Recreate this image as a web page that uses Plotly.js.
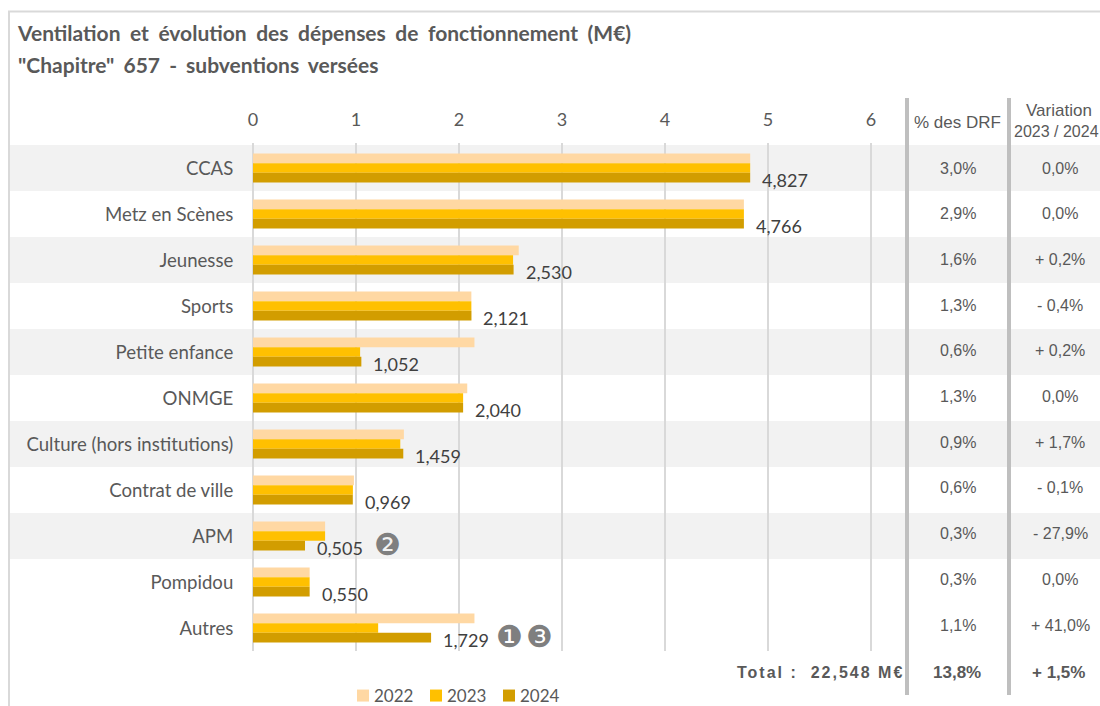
<!DOCTYPE html>
<html><head><meta charset="utf-8">
<script src="https://cdn.plot.ly/plotly-3.0.1.min.js"></script>
<style>
html,body{margin:0;padding:0;background:#fff;overflow:hidden}
#chart{width:1100px;height:706px}
.gtitle{word-spacing:4.4px}
</style></head><body><div id="chart"></div>
<script>
const categories=["CCAS","Metz en Scènes","Jeunesse","Sports","Petite enfance","ONMGE","Culture (hors institutions)","Contrat de ville","APM","Pompidou","Autres"];
const values2022=[4.827,4.766,2.58,2.12,2.15,2.08,1.465,0.98,0.70,0.55,2.15];
const values2023=[4.827,4.766,2.525,2.12,1.04,2.04,1.43,0.97,0.70,0.55,1.215];
const values2024=[4.827,4.766,2.530,2.121,1.052,2.040,1.459,0.969,0.505,0.550,1.729];
const labels2024=["4,827","4,766","2,530","2,121","1,052","2,040","1,459","0,969","0,505","0,550","1,729"];
const pctDRF=["3,0%","2,9%","1,6%","1,3%","0,6%","1,3%","0,9%","0,6%","0,3%","0,3%","1,1%"];
const variation=["0,0%","0,0%","+ 0,2%","- 0,4%","+ 0,2%","0,0%","+ 1,7%","- 0,1%","- 27,9%","0,0%","+ 41,0%"];
const years=["2022","2023","2024"];
const colors=["#FFD8A3","#FFC000","#D29D00"];
const bandRows=[0,2,4,6,8];

const L=253,R=876,T=143,B=651,W=1100,H=706;
const px=x=>(x-L)/(R-L);
const py=y=>(B-y)/(B-T);
const ink="#595959";

const series=[values2022,values2023,values2024];
const traces=series.map((v,i)=>({type:"bar",orientation:"h",name:years[i],x:v,y:categories,
  marker:{color:colors[i]},hoverinfo:"x+y"}));

const shapes=[];
bandRows.forEach(r=>shapes.push({type:"rect",layer:"below",xref:"paper",yref:"y",x0:px(10),x1:px(1100),
  y0:r-0.5,y1:r+0.5,fillcolor:"#F2F2F2",line:{width:0}}));
[907,1009].forEach(x=>shapes.push({type:"line",layer:"above",xref:"paper",yref:"paper",x0:px(x),x1:px(x),
  y0:py(98),y1:py(695),line:{color:"#BFBFBF",width:4}}));
shapes.push({type:"line",xref:"paper",yref:"paper",x0:px(8),x1:px(1100),y0:py(11.5),y1:py(11.5),line:{color:"#D9D9D9",width:2}});
shapes.push({type:"line",xref:"paper",yref:"paper",x0:px(9),x1:px(9),y0:py(11),y1:py(706),line:{color:"#D9D9D9",width:2}});

const ann=[];
categories.forEach((c,i)=>{
  ann.push({xref:"x",yref:"y",x:values2024[i],y:c,text:labels2024[i],showarrow:false,xanchor:"left",xshift:10,yshift:-12,
    font:{family:"Lato",size:18,color:"#404040"}});
  ann.push({xref:"paper",yref:"y",x:px(958),y:c,text:pctDRF[i],showarrow:false,xanchor:"center",yshift:0.3*i,
    font:{family:"Liberation Sans",size:16,color:ink}});
  ann.push({xref:"paper",yref:"y",x:px(1060),y:c,text:variation[i],showarrow:false,xanchor:"center",yshift:0.3*i,
    font:{family:"Liberation Sans",size:16,color:ink}});
});
const mark=(t,x,i)=>ann.push({xref:"paper",yref:"y",x:px(x),y:categories[i],text:t,showarrow:false,xanchor:"center",yshift:-8,
  font:{family:"DejaVu Sans",size:30,color:"#7F7F7F"}});
mark("❷",387,8);mark("❶",509,10);mark("❸",539,10);
const head=(t,x,y,o={})=>ann.push(Object.assign({xref:"paper",yref:"paper",x:px(x),y:py(y),text:t,showarrow:false,xanchor:"center",yanchor:"middle",
  font:{family:"Liberation Sans",size:17,color:ink}},o));
head("% des DRF",957,122);
head("Variation",1059,111);
head("2023 / 2024",1056,131,{font:{family:"Liberation Sans",size:16,color:ink}});
const bold=s=>({family:"Liberation Sans",size:s,color:ink,weight:700});
head("Total :  22,548 M€",888,672,{xanchor:"right",font:bold(16)});
const totalIdx=ann.length-1;
head("13,8%",957,672,{font:bold(17)});
head("+ 1,5%",1058,672,{font:bold(17)});
head("\"Chapitre\" 657 - subventions versées",23.5,64,{xanchor:"left",font:{family:"Lato",size:21,weight:700,color:ink}});
const subIdx=ann.length-1;

const layout={
  width:W,height:H,paper_bgcolor:"#fff",plot_bgcolor:"rgba(0,0,0,0)",
  margin:{l:L,r:W-R,t:T,b:H-B,pad:0},
  title:{text:"Ventilation et évolution des dépenses de fonctionnement (M€)",x:18/W,xanchor:"left",xref:"container",
    y:1-34/H,yanchor:"middle",yref:"container",
    font:{family:"Lato",size:21,weight:700,color:ink}},
  barmode:"group",bargap:0.37,bargroupgap:0,
  xaxis:{side:"top",range:[0,(R-L)/103],tickvals:[0,1,2,3,4,5,6],gridcolor:"#D9D9D9",gridwidth:1.5,zeroline:true,zerolinecolor:"#D9D9D9",zerolinewidth:1.5,
    ticks:"outside",ticklen:9,tickcolor:"rgba(0,0,0,0)",tickfont:{family:"Lato",size:18,color:ink},showline:false,fixedrange:true},
  yaxis:{type:"category",categoryorder:"array",categoryarray:categories,autorange:"reversed",showgrid:false,zeroline:false,
    ticks:"outside",ticklen:15,tickcolor:"rgba(0,0,0,0)",tickfont:{family:"Lato",size:18.6,color:ink},showline:false,fixedrange:true},
  legend:{orientation:"h",xref:"container",yref:"container",x:343/W,xanchor:"left",y:1-678/H,yanchor:"top",traceorder:"normal",bgcolor:"rgba(0,0,0,0)",
    font:{family:"Lato",size:17,color:ink},entrywidth:28,entrywidthmode:"pixels",itemwidth:30,itemclick:false,itemdoubleclick:false},
  shapes,annotations:ann,showlegend:true
};
Plotly.newPlot("chart",traces,layout,{displayModeBar:false,responsive:false}).then(()=>{
  const t=document.querySelector('.annotation[data-index="'+totalIdx+'"] text');
  if(t){t.style.letterSpacing="2px";}
  const s=document.querySelector('.annotation[data-index="'+subIdx+'"] text');
  if(s){s.style.wordSpacing="4px";}
  document.querySelectorAll('.legendtext').forEach(e=>e.setAttribute('x','31'));
});
</script></body></html>
